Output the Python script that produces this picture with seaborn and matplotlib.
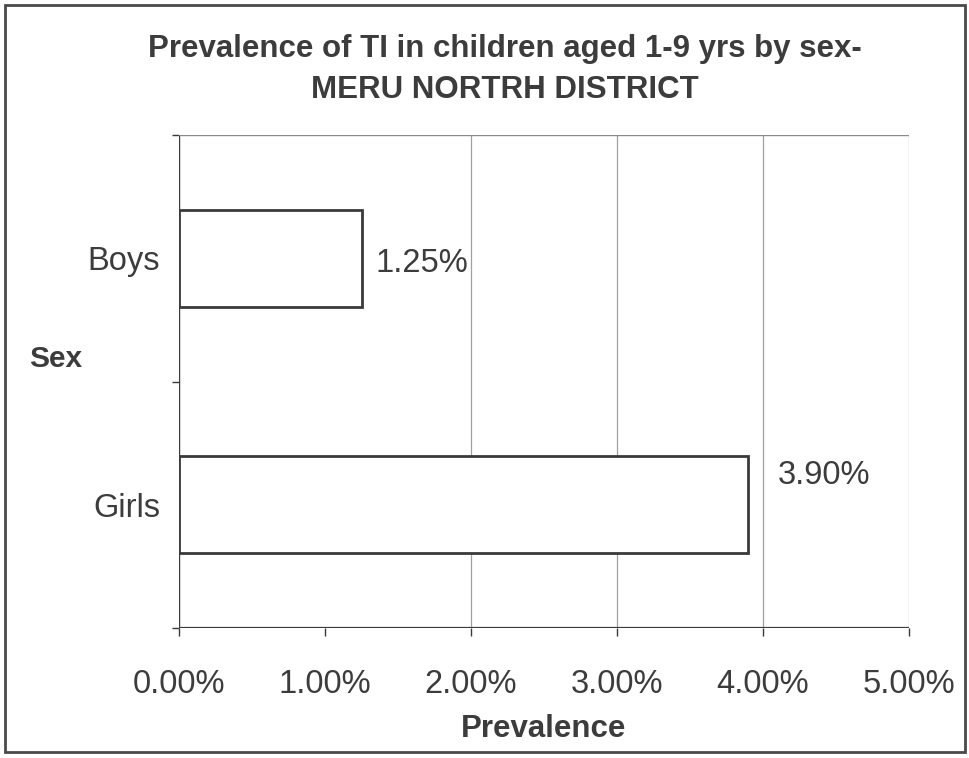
import matplotlib
matplotlib.use("Agg")
import matplotlib.pyplot as plt
import seaborn as sns
import pandas as pd
from matplotlib.ticker import FuncFormatter, FixedLocator
from matplotlib.patches import Rectangle

# Data
sexes = ["Boys", "Girls"]
prevalence = [1.25, 3.90]          # percent
value_labels = ["1.25%", "3.90%"]

sns.set_theme(style="white")
plt.rcParams["font.family"] = ["Liberation Sans", "DejaVu Sans"]

TXT = "#3c3c3c"
LINE = "#3a3a3a"
REG = 23.5      # regular text size
BOLD = 22.5     # bold text size

df = pd.DataFrame({"Sex": sexes, "Prevalence": prevalence})

fig = plt.figure(figsize=(9.69, 7.58), dpi=100)
ax = fig.add_axes([179 / 969, 1 - 628 / 758, (909 - 179) / 969, (628 - 135) / 758])

sns.barplot(data=df, x="Prevalence", y="Sex", orient="h", color="white",
            edgecolor=LINE, linewidth=2.0, width=0.393, ax=ax, zorder=3)

ax.set_xlim(0, 5)
ax.set_ylim(1.5, -0.5)

# vertical gridlines
for gx in [2, 3, 4, 5]:
    ax.axvline(gx, color="#a0a0a0", linewidth=0.9, zorder=1)

for side in ["right", "bottom", "left", "top"]:
    ax.spines[side].set_visible(False)
ax.axhline(1.5, color=LINE, linewidth=1.6, zorder=2)
ax.axvline(0, color=LINE, linewidth=1.0, zorder=2)
ax.axhline(-0.5, color="#8a8a8a", linewidth=1.0, zorder=2)

ax.xaxis.set_major_locator(FixedLocator([0, 1, 2, 3, 4, 5]))
ax.xaxis.set_major_formatter(FuncFormatter(lambda v, p: f"{v:.2f}%"))
ax.tick_params(axis="x", direction="out", length=5.8, width=1.0, color=LINE,
               labelsize=REG, labelcolor=TXT, pad=24, bottom=True)

ax.yaxis.set_minor_locator(FixedLocator([-0.5, 0.5, 1.5]))
ax.tick_params(axis="y", which="minor", direction="out", length=5, width=1.0,
               color=LINE, left=True)
ax.tick_params(axis="y", which="major", length=0, labelsize=REG,
               labelcolor=TXT, pad=13.5)

ax.set_xlabel("Prevalence", fontsize=BOLD, fontweight="bold", color=TXT, labelpad=10)
ax.set_ylabel("")

# value labels beside the bar ends
offsets = [(14, -14), (29, 21)]
for val, lab, y, (dx, dy) in zip(prevalence, value_labels, range(len(sexes)), offsets):
    ax.annotate(lab, xy=(val, y), xytext=(dx, dy), textcoords="offset pixels",
                ha="left", va="baseline", fontsize=REG, color=TXT, zorder=4)

fig.text(56 / 969, 1 - 367 / 758, "Sex", fontsize=BOLD - 1, fontweight="bold",
         color=TXT, ha="center", va="baseline")

fig.text(505 / 969, 1 - 57 / 758, "Prevalence of TI in children aged 1-9 yrs by sex-",
         fontsize=BOLD, fontweight="bold", color=TXT, ha="center", va="baseline")
fig.text(505 / 969, 1 - 98 / 758, "MERU NORTRH DISTRICT",
         fontsize=BOLD, fontweight="bold", color=TXT, ha="center", va="baseline")

# outer chart frame
fig.patches.append(Rectangle((5 / 969, 1 - 752 / 758), 960 / 969, 747 / 758,
                             transform=fig.transFigure, fill=False,
                             edgecolor="#4a4a4a", linewidth=2.0))

fig.savefig("out.png", dpi=100, facecolor="white")
